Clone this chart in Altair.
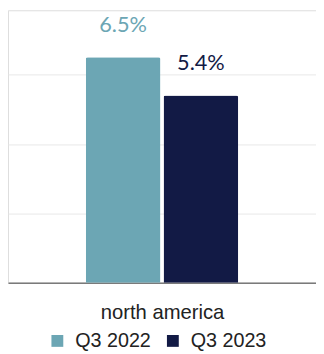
import altair as alt
import pandas as pd

series = ["Q3 2022", "Q3 2023"]
values = [6.5, 5.4]
labels = ["6.5%", "5.4%"]
category = "north america"
colors = ["#6ca6b4", "#121a45"]
y_max = 7.86
grid_values = [0, 2, 4, 6, 7.86]

df = pd.DataFrame({"series": series, "value": values, "label": labels})

x = alt.X("series:N", sort=series,
          scale=alt.Scale(paddingInner=0.04, paddingOuter=1),
          axis=alt.Axis(title=category, labels=False, ticks=False, grid=False,
                        domain=True, domainColor="#7a7a7a", domainWidth=1.5,
                        titleFont="Liberation Sans", titleFontSize=20.5,
                        titleFontWeight="normal", titleColor="#222222",
                        titlePadding=20))
y = alt.Y("value:Q", scale=alt.Scale(domain=[0, y_max], nice=False),
          axis=alt.Axis(title=None, labels=False, ticks=False, domain=False,
                        domainOpacity=0, values=grid_values,
                        gridColor="#e8e8e8", gridWidth=1))
color = alt.Color("series:N", sort=series,
                  scale=alt.Scale(domain=series, range=colors),
                  legend=alt.Legend(title=None, orient="none", direction="horizontal",
                                    legendX=40, legendY=325,
                                    symbolType="square", symbolSize=144,
                                    symbolStrokeWidth=0, labelFont="Liberation Sans",
                                    labelFontSize=20, labelColor="#222222",
                                    labelOffset=8, columnPadding=12))

bars = alt.Chart(df).mark_bar(cornerRadiusTopLeft=2, cornerRadiusTopRight=2).encode(
    x=x, y=y, color=color)
text = alt.Chart(df).mark_text(font="Lato", fontSize=22, dy=-26, baseline="alphabetic").encode(
    x=x, y=y, text="label:N", color=alt.Color("series:N", sort=series,
                                             scale=alt.Scale(domain=series, range=colors),
                                             legend=None))

chart = (alt.layer(bars, text).properties(width=312, height=276)
         .configure_view(stroke="transparent", strokeOpacity=0, strokeWidth=0)
         .configure_axis(domain=False)
         .configure_axisX(grid=False, domain=True)
         .configure_axisBand(grid=False)
         .configure_axisY(domain=False, ticks=False)
         .configure(padding={"left": 0, "top": 0, "right": 0, "bottom": 0}))

chart.save("out.html", embed_options={"renderer": "svg", "actions": False})
